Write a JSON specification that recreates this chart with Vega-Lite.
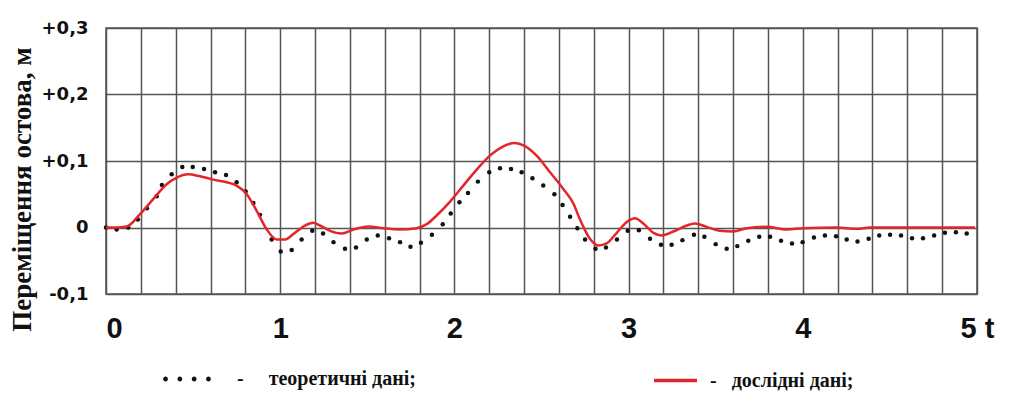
{
  "$schema": "https://vega.github.io/schema/vega-lite/v6.json",
  "width": 871,
  "height": 266,
  "autosize": {"type": "none"},
  "padding": {"left": 106, "top": 28, "right": 50, "bottom": 111},
  "background": "white",
  "config": {
    "view": {"stroke": "#555", "strokeWidth": 1.5},
    "axis": {"domain": false, "ticks": false, "tickSize": 0, "gridColor": "#555", "gridWidth": 1.5, "gridOpacity": 1}
  },
  "datasets": {
    "theory": [
      {"t": 0.0, "v": 0.0, "s": "теоретичні дані;"},
      {"t": 0.061, "v": -0.003, "s": "теоретичні дані;"},
      {"t": 0.128, "v": 0.0, "s": "теоретичні дані;"},
      {"t": 0.183, "v": 0.012, "s": "теоретичні дані;"},
      {"t": 0.235, "v": 0.029, "s": "теоретичні дані;"},
      {"t": 0.291, "v": 0.047, "s": "теоретичні дані;"},
      {"t": 0.321, "v": 0.064, "s": "теоретичні дані;"},
      {"t": 0.377, "v": 0.080, "s": "теоретичні дані;"},
      {"t": 0.438, "v": 0.091, "s": "теоретичні дані;"},
      {"t": 0.498, "v": 0.091, "s": "теоретичні дані;"},
      {"t": 0.563, "v": 0.088, "s": "теоретичні дані;"},
      {"t": 0.626, "v": 0.083, "s": "теоретичні дані;"},
      {"t": 0.689, "v": 0.079, "s": "теоретичні дані;"},
      {"t": 0.750, "v": 0.068, "s": "теоретичні дані;"},
      {"t": 0.802, "v": 0.054, "s": "теоретичні дані;"},
      {"t": 0.846, "v": 0.037, "s": "теоретичні дані;"},
      {"t": 0.884, "v": 0.019, "s": "теоретичні дані;"},
      {"t": 0.951, "v": -0.018, "s": "теоретичні дані;"},
      {"t": 1.003, "v": -0.036, "s": "теоретичні дані;"},
      {"t": 1.066, "v": -0.034, "s": "теоретичні дані;"},
      {"t": 1.123, "v": -0.018, "s": "теоретичні дані;"},
      {"t": 1.184, "v": -0.005, "s": "теоретичні дані;"},
      {"t": 1.246, "v": -0.009, "s": "теоретичні дані;"},
      {"t": 1.306, "v": -0.022, "s": "теоретичні дані;"},
      {"t": 1.372, "v": -0.032, "s": "теоретичні дані;"},
      {"t": 1.435, "v": -0.030, "s": "теоретичні дані;"},
      {"t": 1.497, "v": -0.018, "s": "теоретичні дані;"},
      {"t": 1.560, "v": -0.012, "s": "теоретичні дані;"},
      {"t": 1.625, "v": -0.016, "s": "теоретичні дані;"},
      {"t": 1.688, "v": -0.022, "s": "теоретичні дані;"},
      {"t": 1.748, "v": -0.029, "s": "теоретичні дані;"},
      {"t": 1.808, "v": -0.023, "s": "теоретичні дані;"},
      {"t": 1.871, "v": -0.011, "s": "теоретичні дані;"},
      {"t": 1.933, "v": 0.005, "s": "теоретичні дані;"},
      {"t": 1.979, "v": 0.021, "s": "теоретичні дані;"},
      {"t": 2.029, "v": 0.038, "s": "теоретичні дані;"},
      {"t": 2.078, "v": 0.052, "s": "теоретичні дані;"},
      {"t": 2.135, "v": 0.069, "s": "теоретичні дані;"},
      {"t": 2.200, "v": 0.083, "s": "теоретичні дані;"},
      {"t": 2.262, "v": 0.089, "s": "теоретичні дані;"},
      {"t": 2.325, "v": 0.088, "s": "теоретичні дані;"},
      {"t": 2.386, "v": 0.083, "s": "теоретичні дані;"},
      {"t": 2.448, "v": 0.074, "s": "теоретичні дані;"},
      {"t": 2.510, "v": 0.063, "s": "теоретичні дані;"},
      {"t": 2.574, "v": 0.050, "s": "теоретичні дані;"},
      {"t": 2.621, "v": 0.034, "s": "теоретичні дані;"},
      {"t": 2.664, "v": 0.016, "s": "теоретичні дані;"},
      {"t": 2.706, "v": -0.001, "s": "теоретичні дані;"},
      {"t": 2.750, "v": -0.018, "s": "теоретичні дані;"},
      {"t": 2.810, "v": -0.032, "s": "теоретичні дані;"},
      {"t": 2.870, "v": -0.030, "s": "теоретичні дані;"},
      {"t": 2.933, "v": -0.018, "s": "теоретичні дані;"},
      {"t": 2.995, "v": -0.005, "s": "теоретичні дані;"},
      {"t": 3.059, "v": -0.004, "s": "теоретичні дані;"},
      {"t": 3.123, "v": -0.017, "s": "теоретичні дані;"},
      {"t": 3.186, "v": -0.026, "s": "теоретичні дані;"},
      {"t": 3.247, "v": -0.026, "s": "теоретичні дані;"},
      {"t": 3.309, "v": -0.019, "s": "теоретичні дані;"},
      {"t": 3.375, "v": -0.011, "s": "теоретичні дані;"},
      {"t": 3.435, "v": -0.014, "s": "теоретичні дані;"},
      {"t": 3.500, "v": -0.025, "s": "теоретичні дані;"},
      {"t": 3.563, "v": -0.032, "s": "теоретичні дані;"},
      {"t": 3.624, "v": -0.028, "s": "теоретичні дані;"},
      {"t": 3.687, "v": -0.020, "s": "теоретичні дані;"},
      {"t": 3.750, "v": -0.014, "s": "теоретичні дані;"},
      {"t": 3.812, "v": -0.014, "s": "теоретичні дані;"},
      {"t": 3.875, "v": -0.020, "s": "теоретичні дані;"},
      {"t": 3.938, "v": -0.024, "s": "теоретичні дані;"},
      {"t": 3.999, "v": -0.022, "s": "теоретичні дані;"},
      {"t": 4.064, "v": -0.015, "s": "теоретичні дані;"},
      {"t": 4.127, "v": -0.012, "s": "теоретичні дані;"},
      {"t": 4.191, "v": -0.013, "s": "теоретичні дані;"},
      {"t": 4.252, "v": -0.018, "s": "теоретичні дані;"},
      {"t": 4.314, "v": -0.021, "s": "теоретичні дані;"},
      {"t": 4.378, "v": -0.017, "s": "теоретичні дані;"},
      {"t": 4.439, "v": -0.012, "s": "теоретичні дані;"},
      {"t": 4.501, "v": -0.011, "s": "теоретичні дані;"},
      {"t": 4.564, "v": -0.012, "s": "теоретичні дані;"},
      {"t": 4.627, "v": -0.016, "s": "теоретичні дані;"},
      {"t": 4.690, "v": -0.016, "s": "теоретичні дані;"},
      {"t": 4.754, "v": -0.012, "s": "теоретичні дані;"},
      {"t": 4.816, "v": -0.008, "s": "теоретичні дані;"},
      {"t": 4.879, "v": -0.007, "s": "теоретичні дані;"},
      {"t": 4.941, "v": -0.009, "s": "теоретичні дані;"}
    ],
    "exp": [
      {"t": 0.0, "v": 0.0, "s": "дослідні дані;"},
      {"t": 0.057, "v": 0.0, "s": "дослідні дані;"},
      {"t": 0.119, "v": 0.0015, "s": "дослідні дані;"},
      {"t": 0.195, "v": 0.020, "s": "дослідні дані;"},
      {"t": 0.272, "v": 0.043, "s": "дослідні дані;"},
      {"t": 0.348, "v": 0.065, "s": "дослідні дані;"},
      {"t": 0.406, "v": 0.075, "s": "дослідні дані;"},
      {"t": 0.472, "v": 0.080, "s": "дослідні дані;"},
      {"t": 0.540, "v": 0.077, "s": "дослідні дані;"},
      {"t": 0.616, "v": 0.072, "s": "дослідні дані;"},
      {"t": 0.693, "v": 0.068, "s": "дослідні дані;"},
      {"t": 0.750, "v": 0.063, "s": "дослідні дані;"},
      {"t": 0.808, "v": 0.050, "s": "дослідні дані;"},
      {"t": 0.865, "v": 0.025, "s": "дослідні дані;"},
      {"t": 0.923, "v": -0.003, "s": "дослідні дані;"},
      {"t": 0.980, "v": -0.018, "s": "дослідні дані;"},
      {"t": 1.028, "v": -0.018, "s": "дослідні дані;"},
      {"t": 1.075, "v": -0.010, "s": "дослідні дані;"},
      {"t": 1.142, "v": 0.003, "s": "дослідні дані;"},
      {"t": 1.190, "v": 0.007, "s": "дослідні дані;"},
      {"t": 1.228, "v": 0.003, "s": "дослідні дані;"},
      {"t": 1.286, "v": -0.005, "s": "дослідні дані;"},
      {"t": 1.353, "v": -0.009, "s": "дослідні дані;"},
      {"t": 1.420, "v": -0.003, "s": "дослідні дані;"},
      {"t": 1.506, "v": 0.0015, "s": "дослідні дані;"},
      {"t": 1.592, "v": -0.001, "s": "дослідні дані;"},
      {"t": 1.688, "v": -0.003, "s": "дослідні дані;"},
      {"t": 1.784, "v": -0.001, "s": "дослідні дані;"},
      {"t": 1.841, "v": 0.005, "s": "дослідні дані;"},
      {"t": 1.898, "v": 0.018, "s": "дослідні дані;"},
      {"t": 1.975, "v": 0.039, "s": "дослідні дані;"},
      {"t": 2.051, "v": 0.063, "s": "дослідні дані;"},
      {"t": 2.128, "v": 0.087, "s": "дослідні дані;"},
      {"t": 2.204, "v": 0.108, "s": "дослідні дані;"},
      {"t": 2.281, "v": 0.122, "s": "дослідні дані;"},
      {"t": 2.348, "v": 0.127, "s": "дослідні дані;"},
      {"t": 2.400, "v": 0.123, "s": "дослідні дані;"},
      {"t": 2.472, "v": 0.108, "s": "дослідні дані;"},
      {"t": 2.549, "v": 0.083, "s": "дослідні дані;"},
      {"t": 2.625, "v": 0.058, "s": "дослідні дані;"},
      {"t": 2.683, "v": 0.036, "s": "дослідні дані;"},
      {"t": 2.721, "v": 0.012, "s": "дослідні дані;"},
      {"t": 2.778, "v": -0.017, "s": "дослідні дані;"},
      {"t": 2.826, "v": -0.027, "s": "дослідні дані;"},
      {"t": 2.874, "v": -0.024, "s": "дослідні дані;"},
      {"t": 2.932, "v": -0.008, "s": "дослідні дані;"},
      {"t": 2.998, "v": 0.010, "s": "дослідні дані;"},
      {"t": 3.037, "v": 0.014, "s": "дослідні дані;"},
      {"t": 3.084, "v": 0.006, "s": "дослідні дані;"},
      {"t": 3.142, "v": -0.008, "s": "дослідні дані;"},
      {"t": 3.190, "v": -0.012, "s": "дослідні дані;"},
      {"t": 3.257, "v": -0.006, "s": "дослідні дані;"},
      {"t": 3.334, "v": 0.003, "s": "дослідні дані;"},
      {"t": 3.381, "v": 0.006, "s": "дослідні дані;"},
      {"t": 3.448, "v": 0.001, "s": "дослідні дані;"},
      {"t": 3.525, "v": -0.005, "s": "дослідні дані;"},
      {"t": 3.601, "v": -0.006, "s": "дослідні дані;"},
      {"t": 3.678, "v": -0.001, "s": "дослідні дані;"},
      {"t": 3.793, "v": 0.001, "s": "дослідні дані;"},
      {"t": 3.908, "v": -0.003, "s": "дослідні дані;"},
      {"t": 4.003, "v": -0.001, "s": "дослідні дані;"},
      {"t": 4.195, "v": 0.0, "s": "дослідні дані;"},
      {"t": 4.310, "v": -0.002, "s": "дослідні дані;"},
      {"t": 4.386, "v": 0.0, "s": "дослідні дані;"},
      {"t": 4.577, "v": 0.0, "s": "дослідні дані;"},
      {"t": 4.769, "v": 0.0, "s": "дослідні дані;"},
      {"t": 4.989, "v": 0.0, "s": "дослідні дані;"}
    ]
  },
  "encoding": {
    "x": {
      "field": "t", "type": "quantitative",
      "scale": {"domain": [0, 5], "nice": false, "zero": false},
      "axis": {
        "title": null,
        "values": [0, 0.2, 0.4, 0.6, 0.8, 1, 1.2, 1.4, 1.6, 1.8, 2, 2.2, 2.4, 2.6, 2.8, 3, 3.2, 3.4, 3.6, 3.8, 4, 4.2, 4.4, 4.6, 4.8, 5],
        "grid": true,
        "labelExpr": "abs(datum.value - round(datum.value)) < 0.001 ? (datum.value > 4.5 ? '5 t' : format(datum.value, 'd')) : ''",
        "labelAlign": {"condition": {"test": "datum.value < 0.1", "value": "left"}, "value": "center"},
        "labelBaseline": "top",
        "labelPadding": 20,
        "labelFont": "Liberation Sans",
        "labelFontWeight": "bold",
        "labelFontSize": 29,
        "labelColor": "#111",
        "labelOverlap": false,
        "labelBound": false,
        "labelFlush": false
      }
    },
    "y": {
      "field": "v", "type": "quantitative",
      "scale": {"domain": [-0.1, 0.3], "nice": false, "zero": false},
      "axis": {
        "title": "Переміщення остова, м",
        "values": [-0.1, 0, 0.1, 0.2, 0.3],
        "grid": true,
        "labelExpr": "datum.value > 0.001 ? '+0,' + round(datum.value * 10) : (datum.value < -0.001 ? '-0,' + round(-datum.value * 10) : '0')",
        "labelFont": "DejaVu Sans",
        "labelFontWeight": "bold",
        "labelFontSize": 18,
        "labelColor": "#111",
        "labelPadding": 18,
        "labelOverlap": false,
        "labelBound": false,
        "labelFlush": false,
        "titleFont": "'Liberation Serif', 'Times New Roman', 'DejaVu Serif', serif",
        "titleFontWeight": "bold",
        "titleFontSize": 27,
        "titleColor": "#111",
        "titleAngle": -90,
        "titleX": -84,
        "titleY": 161,
        "titleAlign": "center",
        "titleBaseline": "middle"
      }
    }
  },
  "layer": [
    {
      "data": {"name": "theory"},
      "mark": {"type": "point", "filled": true, "shape": "circle", "size": 20, "opacity": 1, "strokeWidth": 0},
      "encoding": {
        "fill": {
          "field": "s", "type": "nominal",
          "scale": {"domain": ["теоретичні дані;"], "range": ["#111111"]},
          "legend": {
            "orient": "none",
            "legendX": 57,
            "legendY": 327,
            "title": null,
            "padding": 0,
            "symbolType": "M-1,0a0.1,0.1 0 1,0 0.2,0a0.1,0.1 0 1,0 -0.2,0Z M-0.4,0a0.1,0.1 0 1,0 0.2,0a0.1,0.1 0 1,0 -0.2,0Z M0.2,0a0.1,0.1 0 1,0 0.2,0a0.1,0.1 0 1,0 -0.2,0Z M0.8,0a0.1,0.1 0 1,0 0.2,0a0.1,0.1 0 1,0 -0.2,0Z",
            "symbolSize": 2275,
            "symbolStrokeWidth": 0,
            "symbolOpacity": 1,
            "labelExpr": "'-\u00a0\u00a0\u00a0\u00a0\u00a0' + datum.label",
            "labelFont": "'Liberation Serif', 'Times New Roman', 'DejaVu Serif', serif",
            "labelFontWeight": "bold",
            "labelFontSize": 20,
            "labelColor": "#111",
            "labelOffset": 26,
            "labelLimit": 400
          }
        }
      }
    },
    {
      "data": {"name": "exp"},
      "mark": {"type": "line", "strokeWidth": 2.5, "interpolate": "monotone"},
      "encoding": {
        "stroke": {
          "field": "s", "type": "nominal",
          "scale": {"domain": ["дослідні дані;"], "range": ["#e3262a"]},
          "legend": {
            "orient": "none",
            "legendX": 546,
            "legendY": 329,
            "title": null,
            "padding": 0,
            "symbolType": "stroke",
            "symbolSize": 1849,
            "symbolStrokeWidth": 3.5,
            "labelExpr": "'-\u00a0\u00a0\u00a0' + datum.label",
            "labelFont": "'Liberation Serif', 'Times New Roman', 'DejaVu Serif', serif",
            "labelFontWeight": "bold",
            "labelFontSize": 20,
            "labelColor": "#111",
            "labelOffset": 11,
            "labelLimit": 400
          }
        }
      }
    }
  ]
}
